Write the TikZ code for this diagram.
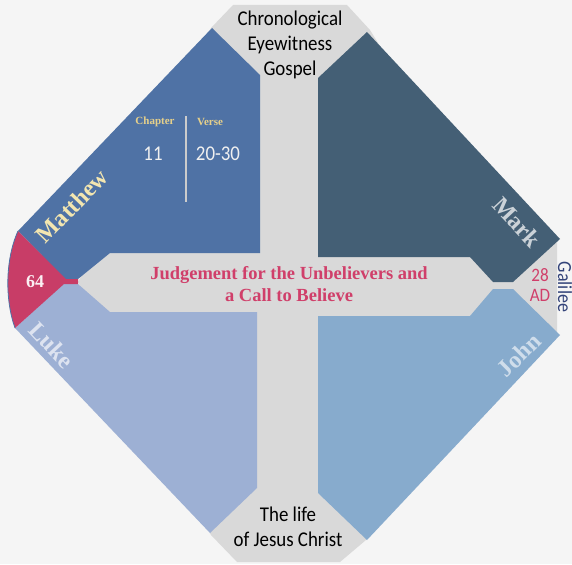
\documentclass[tikz,border=0pt]{standalone}
\usepackage{fontspec}
\setmainfont{Liberation Serif}
\newfontfamily\calloutFont[FakeStretch=0.9]{Carlito}
\usetikzlibrary{positioning}
\definecolor{pageBack}{HTML}{F5F5F5}
\definecolor{crossGray}{HTML}{D9D9D9}
\definecolor{matthewBlue}{HTML}{4F72A5}
\definecolor{markSlate}{HTML}{445F75}
\definecolor{lukeBlue}{HTML}{9DB0D4}
\definecolor{johnBlue}{HTML}{87ABCD}
\definecolor{dateRed}{HTML}{C83D67}
\definecolor{titleRed}{HTML}{D03F6A}
\definecolor{nameGold}{HTML}{F3E6B0}
\definecolor{refGold}{HTML}{E6D08A}
\definecolor{placeNavy}{HTML}{34447A}
\tikzset{
    gospelName/.style={inner sep=0pt, font=\bfseries\fontsize{24}{24}\selectfont},
    sansNote/.style={inner sep=0pt, align=center, font=\calloutFont\fontsize{21}{25}\selectfont},
    refHead/.style={inner sep=0pt, text=refGold, font=\bfseries\fontsize{11}{11}\selectfont},
    refNum/.style={inner sep=0pt, text=white!94!black, font=\calloutFont\fontsize{21}{21}\selectfont}
}

\begin{document}
\begin{tikzpicture}[x=1pt, y=-1pt]
	\useasboundingbox (0,0) rectangle (572,564);
	\fill[pageBack] (0,0) rectangle (572,564);
	% grey cross and tips
	\fill[crossGray] (233,5) -- (347,5) -- (370,30) -- (500,240) -- (557,240) -- (557,334) -- (500,330)
		-- (366,540) -- (340,562) -- (237,562) -- (211,535) -- (78,282) -- (211,28) -- cycle;
	% the four gospels
	\fill[matthewBlue] (212,28) -- (260,75) -- (260,253) -- (110,253) -- (78,279) -- (65,279) -- (18,231) -- cycle;
	\fill[markSlate] (367,32) -- (560,239) -- (513,282) -- (493,282) -- (470,257) -- (318,257) -- (318,78) -- cycle;
	\fill[lukeBlue] (15,328) -- (63,284) -- (78,284) -- (110,312) -- (257,312) -- (257,488) -- (210,533) -- cycle;
	\fill[johnBlue] (318,316) -- (470,316) -- (493,289) -- (513,289) -- (560,335) -- (367,540) -- (318,493) -- cycle;
	% date wedge
	\fill[dateRed] (18,231) -- (66,279) -- (78,279) -- (78,284) -- (64,284) -- (15,328)
		.. controls (5,300) and (5,260) .. (18,231);
	\draw[matthewBlue, line width=0.8pt] (15,328) .. controls (5,300) and (5,260) .. (18,231);

	\node[sansNote] (eyewitness) at (290,45) {Chronological\\Eyewitness\\Gospel};
	\node[sansNote] (lifeOfChrist) at (288,527) {The life\\of Jesus Christ};
	\node[inner sep=0pt, align=center, text=titleRed, font=\bfseries\fontsize{18.5}{22}\selectfont]
		(judgement) at (289,284) {Judgement for the Unbelievers and\\a Call to Believe};

	\node[gospelName, text=nameGold, rotate=46] (matthew) at (72,206) {Matthew};
	\node[gospelName, text=white!72!markSlate, rotate=-47] (mark) at (517,222) {Mark};
	\node[gospelName, text=white!65!lukeBlue, rotate=-47] (luke) at (52,345) {Luke};
	\node[gospelName, text=white!60!johnBlue, rotate=45] (john) at (519,355) {John};

	\node[inner sep=0pt, text=white!92!dateRed, font=\bfseries\fontsize{18}{18}\selectfont] (yearSixtyFour) at (35,282) {64};
	\node[inner sep=0pt, align=center, text=titleRed, font=\calloutFont\fontsize{19}{20}\selectfont] (yearAD) at (540,285) {28\\AD};
	\node[inner sep=0pt, text=placeNavy, rotate=-90, font=\calloutFont\fontsize{20}{20}\selectfont] (galilee) at (565,287) {Galilee};

	\node[refHead] (chapterHead) at (155,122) {Chapter};
	\node[refHead] (verseHead) at (210,122) {Verse};
	\node[refNum] (chapterNum) at (153,154) {11};
	\node[refNum] (verseNum) at (218,154) {20-30};
	\coordinate (dividerTop) at (186,116);
	\coordinate (dividerBottom) at (186,202);
	\draw[white!80!black, line width=1.5pt] (dividerTop) -- (dividerBottom);
\end{tikzpicture}
\end{document}
